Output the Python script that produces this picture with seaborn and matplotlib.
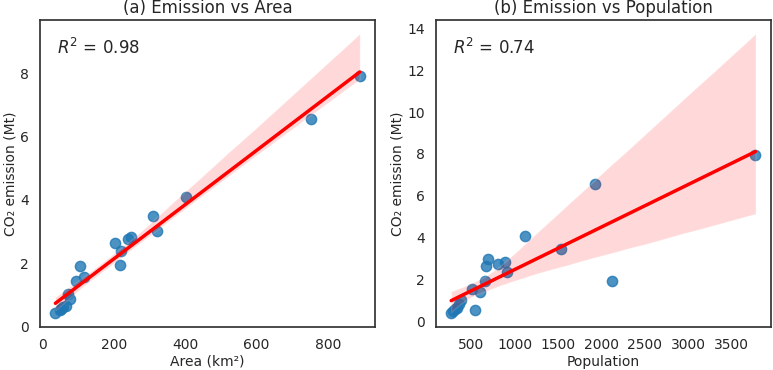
import numpy as np
import pandas as pd
import matplotlib
matplotlib.use("Agg")
import matplotlib.pyplot as plt
import seaborn as sns

area = [36, 48, 52, 58, 65, 76, 70, 95, 117, 104, 204, 219, 216, 240, 247, 310, 322, 403, 752, 889]
population = [265, 290, 540, 310, 330, 360, 380, 593, 500, 654, 666, 913, 2122, 805, 890, 1530, 685, 1113, 1924, 3775]
emission = [0.41, 0.51, 0.55, 0.59, 0.64, 0.85, 1.02, 1.44, 1.56, 1.92, 2.65, 2.38, 1.95, 2.77, 2.83, 3.48, 3.0, 4.1, 6.56, 7.94]
titles = ["(a) Emission vs Area", "(b) Emission vs Population"]
xlabels = ["Area (km²)", "Population"]
r2_labels = ["$R^2$ = 0.98", "$R^2$ = 0.74"]

df = pd.DataFrame({"area": area, "population": population, "emission": emission})

sns.set_theme(style="white")
plt.rcParams['font.family'] = ['DejaVu Sans']

fig = plt.figure(figsize=(7.73, 3.70), dpi=100)
ax1 = fig.add_axes([0.052, 0.116, 0.433, 0.830])
ax2 = fig.add_axes([0.564, 0.116, 0.433, 0.830])

for ax, xcol, title, xl, r2 in zip([ax1, ax2], ["area", "population"], titles, xlabels, r2_labels):
    sns.regplot(data=df, x=xcol, y="emission", ax=ax, seed=3,
                scatter_kws={"s": 55, "alpha": 0.8, "color": "#1f77b4"},
                line_kws={"color": "red", "lw": 2.5})
    ax.set_title(title, fontsize=12, pad=5)
    ax.set_xlabel(xl, fontsize=10, labelpad=2)
    ax.set_ylabel("CO₂ emission (Mt)", fontsize=10, labelpad=2)
    ax.tick_params(labelsize=10, pad=2)
    ax.text(0.05, 0.91, r2, transform=ax.transAxes, fontsize=12, va="center")
    for s in ax.spines.values():
        s.set_color("#333333")

ax1.set_xticks([0, 200, 400, 600, 800])
ax1.set_yticks([0, 2, 4, 6, 8])
ax2.set_xticks([500, 1000, 1500, 2000, 2500, 3000, 3500])
ax2.set_yticks([0, 2, 4, 6, 8, 10, 12, 14])

fig.savefig("out.png", dpi=100)
